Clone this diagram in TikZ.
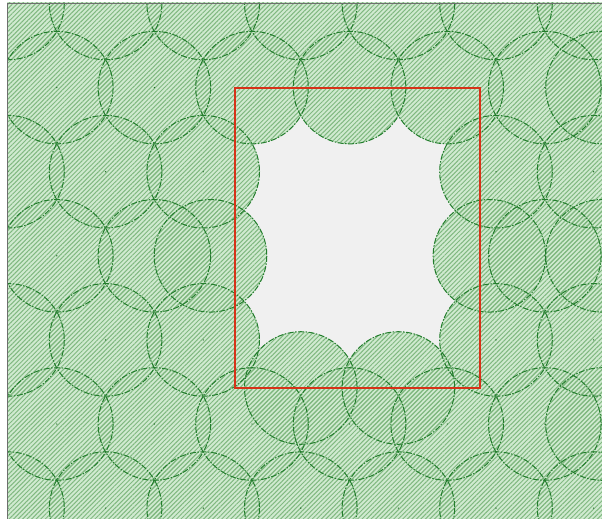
\documentclass[tikz,border=0pt]{standalone}
\usetikzlibrary{patterns.meta}
\definecolor{bggray}{RGB}{240,240,240}
\definecolor{hatchbase}{RGB}{208,234,208}
\definecolor{hatchline}{RGB}{128,184,128}
\definecolor{ringgreen}{RGB}{34,125,44}
\definecolor{rectred}{RGB}{214,50,24}
\definecolor{framegray}{RGB}{110,110,110}
\tikzset{
  ringline/.style={draw=ringgreen, line width=1pt, dash pattern=on 6pt off 1.5pt on 1.5pt off 1.5pt},
  hatchfill/.style={pattern={Lines[angle=45,distance=3.2pt,line width=1pt]}, pattern color=hatchline},
  basefill/.style={fill=hatchbase},
  obstacle/.style={draw=rectred, line width=2pt},
  centerdot/.style={fill=ringgreen!80!black}
}
\def\rad{56.3}
\def\centers{8/3.5, 105.6/3.5, 203.2/3.5, 300.8/3.5, 398.4/3.5, 496/3.5, 593.6/3.5,
56.8/87.6, 154.4/87.6, 252/87.6, 349.6/87.6, 447.2/87.6, 544.8/87.6,
8/171.7, 105.6/171.7, 203.2/171.7, 496/171.7, 593.6/171.7,
56.8/255.8, 154.4/255.8, 544.8/255.8,
8/339.9, 105.6/339.9, 203.2/339.9, 496/339.9, 593.6/339.9,
56.8/424, 154.4/424, 252/424, 349.6/424, 447.2/424, 544.8/424,
8/508.1, 105.6/508.1, 203.2/508.1, 300.8/508.1, 398.4/508.1, 496/508.1, 593.6/508.1,
210.5/255.8, 489.4/255.8, 300.8/388, 398.4/388, 602/87.6, 602/255.8, 602/424}
\begin{document}
\begin{tikzpicture}[x=1pt,y=-1pt]
\useasboundingbox (0,0) rectangle (602,519);
\fill[white] (0,0) rectangle (602,519);
\fill[bggray] (7,3) rectangle (602,519);
\begin{scope}
  \clip (7,3) rectangle (602,519);
  \foreach \cx/\cy in \centers { \fill[basefill] (\cx,\cy) circle (\rad); }
  \foreach \cx/\cy in \centers { \fill[hatchfill] (\cx,\cy) circle (\rad); }
  \foreach \cx/\cy in \centers { \draw[ringline] (\cx,\cy) circle (\rad); }
  \foreach \cx/\cy in \centers { \fill[centerdot] (\cx,\cy) circle (0.7); }
\end{scope}
\coordinate (rA) at (235,87.5);
\coordinate (rB) at (480,387.7);
\draw[obstacle] (rA) rectangle (rB);
\coordinate (fA) at (7,519);
\coordinate (fB) at (7,3);
\coordinate (fC) at (602,3);
\draw[framegray, line width=0.8pt] (fA) -- (fB) -- (fC);
\end{tikzpicture}
\end{document}
